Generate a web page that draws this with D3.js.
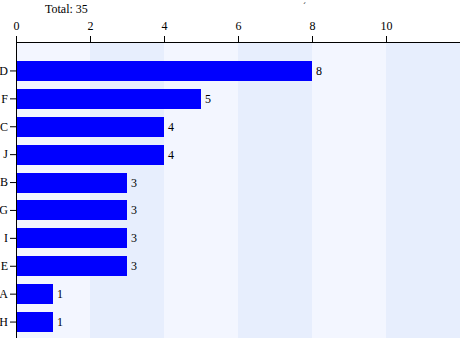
<!DOCTYPE html>
<html><head><meta charset="utf-8">
<script src="https://cdn.jsdelivr.net/npm/d3@7"></script>
<style>body{margin:0;background:#fff}svg{display:block}text{font-family:"Liberation Serif",serif;font-size:12px;fill:#000}</style>
</head><body><svg id="c" width="468" height="342"></svg>
<script>
const categories = ["D","F","C","J","B","G","I","E","A","H"];
const values = [8,5,4,4,3,3,3,3,1,1];
const xTicks = [0,2,4,6,8,10];
const totalLabel = "Total: 35";

(function(){
const svg = d3.select("#c");
const x = d3.scaleLinear().domain([0,12]).range([16,460]);
const y = d3.scaleBand().domain(categories).range([57,336]).paddingInner(0.28).paddingOuter(0.14);
const plotTop = 42, plotBottom = 338;

// background bands
const bands = d3.range(0,12,2);
svg.selectAll("rect.bg").data(bands).enter().append("rect")
  .attr("x", d=>x(d)).attr("y", plotTop).attr("width", d=>x(d+2)-x(d)).attr("height", plotBottom-plotTop)
  .attr("fill", (d,i)=> i%2===0 ? "#f3f6ff" : "#e7eefd");

// bars
svg.selectAll("rect.bar").data(categories).enter().append("rect")
  .attr("x", x(0)).attr("y", d=>Math.round(y(d))).attr("width", (d,i)=>x(values[i])-x(0))
  .attr("height", Math.round(y.bandwidth())).attr("fill","#0000ff");

// value labels
svg.selectAll("text.val").data(categories).enter().append("text")
  .attr("x", (d,i)=>x(values[i])+4).attr("y", d=>y(d)+y.bandwidth()/2+4)
  .text((d,i)=>values[i]);

// top axis
const xa = svg.append("g").attr("transform",`translate(0,${plotTop})`)
  .call(d3.axisTop(x).tickValues(xTicks).tickSize(6).tickPadding(6));
xa.select(".domain").attr("d", `M${x(0)},0.5H${x(12)}`).attr("stroke","#000");
xa.selectAll("text").style("font-family","Liberation Serif").style("font-size","12px");

// left axis
const ya = svg.append("g").attr("transform",`translate(${x(0)},0)`)
  .call(d3.axisLeft(y).tickSize(6).tickPadding(2));
ya.select(".domain").attr("d", `M0.5,${plotTop}V${plotBottom}`).attr("stroke","#000");
ya.selectAll("text").style("font-family","Liberation Serif").style("font-size","12px");

svg.append("text").attr("x",45).attr("y",13).text(totalLabel);
svg.append("text").attr("x",303).attr("y",9).style("font-size","9px").text("´");
})();
</script></body></html>
